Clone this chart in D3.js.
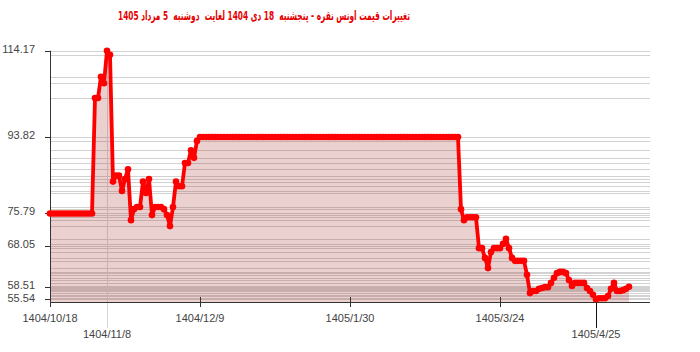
<!DOCTYPE html>
<html>
<head>
<meta charset="utf-8">
<script src="https://cdn.jsdelivr.net/npm/d3@7"></script>
<style>
  body { margin: 0; background: #fff; }
  svg { display: block; }
  .title { font-family: "DejaVu Sans Condensed", "DejaVu Sans", sans-serif; font-weight: bold; font-size: 13px; fill: #e60000; white-space: pre; }
  .lbl { font-family: "Liberation Sans", Arial, sans-serif; font-size: 11px; fill: #444; }
</style>
</head>
<body>
<div id="chart"></div>
<script>
// silver ounce price, one value per trading day
const prices = [
  75.79, 75.79, 75.79, 75.79, 75.79, 75.79, 75.79, 75.79, 75.79, 75.79,
  75.79, 75.79, 75.79, 75.79, 75.79, 103.0, 103.0, 108.0, 106.5, 114.17,
  113.2, 83.3, 84.7, 84.7, 81.1, 83.9, 86.2, 74.2, 76.8, 77.3,
  77.3, 83.3, 80.6, 83.9, 75.4, 77.3, 77.3, 77.3, 76.8, 75.4,
  72.8, 77.3, 83.3, 82.2, 82.2, 87.7, 87.7, 90.7, 88.9, 92.9,
  93.82, 93.82, 93.82, 93.82, 93.82, 93.82, 93.82, 93.82, 93.82, 93.82,
  93.82, 93.82, 93.82, 93.82, 93.82, 93.82, 93.82, 93.82, 93.82, 93.82,
  93.82, 93.82, 93.82, 93.82, 93.82, 93.82, 93.82, 93.82, 93.82, 93.82,
  93.82, 93.82, 93.82, 93.82, 93.82, 93.82, 93.82, 93.82, 93.82, 93.82,
  93.82, 93.82, 93.82, 93.82, 93.82, 93.82, 93.82, 93.82, 93.82, 93.82,
  93.82, 93.82, 93.82, 93.82, 93.82, 93.82, 93.82, 93.82, 93.82, 93.82,
  93.82, 93.82, 93.82, 93.82, 93.82, 93.82, 93.82, 93.82, 93.82, 93.82,
  93.82, 93.82, 93.82, 93.82, 93.82, 93.82, 93.82, 93.82, 93.82, 93.82,
  93.82, 93.82, 93.82, 93.82, 93.82, 93.82, 93.82, 76.8, 74.2, 74.9,
  74.9, 74.9, 74.9, 67.6, 67.6, 65.3, 62.9, 66.7, 67.6, 67.6,
  67.6, 68.6, 69.8, 67.6, 65.3, 64.6, 64.6, 64.6, 64.6, 61.3,
  57.0, 57.5, 57.5, 58.0, 58.2, 58.4, 58.4, 59.4, 60.6, 61.7,
  62.0, 62.0, 61.7, 60.1, 58.7, 59.4, 59.4, 59.4, 59.4, 58.2,
  57.5, 56.6, 55.54, 55.8, 55.8, 55.8, 56.3, 58.0, 59.4, 57.5,
  57.5, 57.7, 58.0, 58.51
];

const titleText = 'تغییرات قیمت اونس نقره - پنجشنبه  18 دی 1404 لغایت  دوشنبه  5 مرداد 1405';

const yTicks = [114.17, 93.82, 75.79, 68.05, 58.51, 55.54];
const xTickIdx = [0, 50, 100, 150];
const xTickLabels = ['1404/10/18', '1404/12/9', '1405/1/30', '1405/3/24'];
const maxDateLabel = '1404/11/8';
const minDateLabel = '1405/4/25';

const width = 700, height = 352;
const config = {
  LEFT: 50, RIGHT: 650, TOP: 50.7, BOTTOM: 302,
  X_MAX: 200, Y_MIN: 54.9,
  DOT_R: 3.3, LINE_W: 3.8,
  TITLE_W: 292
};

const svg = d3.select('#chart').append('svg')
  .attr('width', width).attr('height', height);

const x = d3.scaleLinear().domain([0, config.X_MAX]).range([config.LEFT, config.RIGHT]);
const y = d3.scaleLinear().domain([config.Y_MIN, d3.max(prices)]).range([config.BOTTOM, config.TOP]);

// title
svg.append('text')
  .attr('class', 'title')
  .attr('x', 264).attr('y', 20)
  .attr('text-anchor', 'middle')
  .attr('textLength', config.TITLE_W)
  .attr('lengthAdjust', 'spacingAndGlyphs')
  .text(titleText);

// horizontal grid, one line per price
const gridVals = Array.from(new Set(prices.concat(yTicks)));
svg.append('g')
  .selectAll('line')
  .data(gridVals)
  .enter().append('line')
  .attr('x1', config.LEFT).attr('x2', config.RIGHT)
  .attr('y1', v => Math.round(y(v)) + 0.5).attr('y2', v => Math.round(y(v)) + 0.5)
  .attr('stroke', '#d2d2d2')
  .attr('stroke-width', 1);

// marker for the max day
const iMax = d3.maxIndex(prices);
const iMin = d3.minIndex(prices);

svg.append('line')
  .attr('x1', Math.round(x(iMax)) + 0.5).attr('x2', Math.round(x(iMax)) + 0.5)
  .attr('y1', config.TOP).attr('y2', 328)
  .attr('stroke', '#d6d6d6');

// area under line
const area = d3.area()
  .x((d, i) => x(i))
  .y0(config.BOTTOM)
  .y1(d => y(d));

svg.append('path')
  .datum(prices)
  .attr('d', area)
  .attr('fill', 'rgb(165,40,40)')
  .attr('fill-opacity', 0.22);

// axes
const axisCol = '#333';
svg.append('line')
  .attr('x1', config.LEFT + 0.5).attr('x2', config.LEFT + 0.5)
  .attr('y1', config.TOP).attr('y2', config.BOTTOM)
  .attr('stroke', axisCol);
svg.append('line')
  .attr('x1', config.LEFT).attr('x2', config.RIGHT)
  .attr('y1', config.BOTTOM + 0.5).attr('y2', config.BOTTOM + 0.5)
  .attr('stroke', axisCol);

// y ticks + labels (push overlapping labels down)
let lastBase = -100;
yTicks.forEach(v => {
  const ty = Math.round(y(v)) + 0.5;
  svg.append('line')
    .attr('x1', config.LEFT - 5).attr('x2', config.LEFT)
    .attr('y1', ty).attr('y2', ty)
    .attr('stroke', axisCol);
  let base = ty + 1;
  if (base - lastBase < 13) base = lastBase + 13;
  lastBase = base;
  svg.append('text')
    .attr('class', 'lbl')
    .attr('x', 35).attr('y', base)
    .attr('text-anchor', 'end')
    .text(v.toFixed(2));
});

// x ticks
xTickIdx.forEach((idx, k) => {
  const tx = Math.round(x(idx)) + 0.5;
  svg.append('line')
    .attr('x1', tx).attr('x2', tx)
    .attr('y1', config.BOTTOM - 5).attr('y2', config.BOTTOM + 5)
    .attr('stroke', axisCol);
  svg.append('text')
    .attr('class', 'lbl')
    .attr('x', x(idx)).attr('y', 322)
    .attr('text-anchor', 'middle')
    .text(xTickLabels[k]);
});

// min day tick, long
svg.append('line')
  .attr('x1', Math.round(x(iMin)) + 0.5).attr('x2', Math.round(x(iMin)) + 0.5)
  .attr('y1', config.BOTTOM).attr('y2', 328)
  .attr('stroke', '#111');

svg.append('text')
  .attr('class', 'lbl')
  .attr('x', x(iMax)).attr('y', 338)
  .attr('text-anchor', 'middle')
  .text(maxDateLabel);

svg.append('text')
  .attr('class', 'lbl')
  .attr('x', x(iMin)).attr('y', 338)
  .attr('text-anchor', 'middle')
  .text(minDateLabel);

// price line + dots
const line = d3.line()
  .x((d, i) => x(i))
  .y(d => y(d));

svg.append('path')
  .datum(prices)
  .attr('d', line)
  .attr('fill', 'none')
  .attr('stroke', '#f00')
  .attr('stroke-width', config.LINE_W)
  .attr('stroke-linejoin', 'round');

svg.append('g')
  .selectAll('circle')
  .data(prices)
  .enter().append('circle')
  .attr('cx', (d, i) => x(i))
  .attr('cy', d => y(d))
  .attr('r', config.DOT_R)
  .attr('fill', '#f00');
</script>
</body>
</html>
